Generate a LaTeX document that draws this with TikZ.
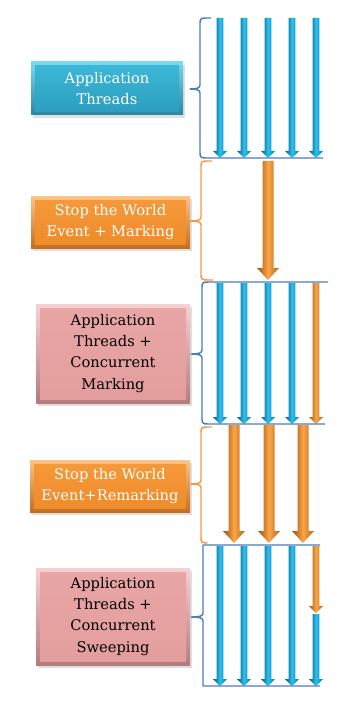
\documentclass[tikz,border=0pt]{standalone}
\usepackage{fontspec}
\setmainfont{DejaVu Serif}
\newfontfamily\boxfont{DejaVu Serif}
\usetikzlibrary{shadows}
\definecolor{lineblue}{HTML}{4A7EBB}
\definecolor{lineorange}{HTML}{F79646}
\definecolor{arrBd}{HTML}{05557E}
\definecolor{arrBm}{HTML}{2CC0EE}
\definecolor{arrBr}{HTML}{0878A8}
\definecolor{arrOd}{HTML}{9A500C}
\definecolor{arrOm}{HTML}{FAA648}
\definecolor{arrOr}{HTML}{B86216}
\definecolor{tealT}{HTML}{7AD8EF}
\definecolor{tealB}{HTML}{2A86A2}
\definecolor{tealIT}{HTML}{3DB9D9}
\definecolor{tealIB}{HTML}{2C9CBD}
\definecolor{oraT}{HTML}{FCC488}
\definecolor{oraB}{HTML}{C46E20}
\definecolor{oraIT}{HTML}{F69A3A}
\definecolor{oraIB}{HTML}{EE8A2A}
\definecolor{pinkT}{HTML}{F7D2D2}
\definecolor{pinkB}{HTML}{B47C7C}
\definecolor{pinkIT}{HTML}{E9A6A6}
\definecolor{pinkIB}{HTML}{E39D9D}
\tikzset{
  boxbase/.style={align=center, inner sep=0pt,
    font=\boxfont\fontsize{11}{15.8}\selectfont,
    drop shadow={opacity=0.25, shadow xshift=1.5pt, shadow yshift=-2pt}},
  tealbox/.style={boxbase, text=white, top color=tealT, bottom color=tealB,
    path picture={\shade[top color=tealIT, bottom color=tealIB]
      ([shift={(3pt,-3pt)}]path picture bounding box.north west) rectangle
      ([shift={(-3pt,2.5pt)}]path picture bounding box.south east);}},
  orabox/.style={boxbase, text=white, top color=oraT, bottom color=oraB,
    path picture={\shade[top color=oraIT, bottom color=oraIB]
      ([shift={(3pt,-3pt)}]path picture bounding box.north west) rectangle
      ([shift={(-3pt,2.5pt)}]path picture bounding box.south east);}},
  pinkbox/.style={boxbase, text=black, top color=pinkT, bottom color=pinkB,
    path picture={\shade[top color=pinkIT, bottom color=pinkIB]
      ([shift={(3pt,-3pt)}]path picture bounding box.north west) rectangle
      ([shift={(-3pt,2.5pt)}]path picture bounding box.south east);}},
  brk/.style={line width=1.1pt, line join=round},
}
% thin arrow: x, ytop, ytip, colour prefix
\newcommand\ArrThin[4]{\shade[left color=#4d, right color=#4r, middle color=#4m]
  ({#1-3.4},#2) -- ({#1+3.4},#2) -- ({#1+3.4},{#3-7}) -- ({#1+7},{#3-7}) --
  (#1,#3) -- ({#1-7},{#3-7}) -- ({#1-3.4},{#3-7}) -- cycle;}
% big arrow: x, ytop, ytip
\newcommand\ArrBig[3]{\shade[left color=arrOd, right color=arrOr, middle color=arrOm]
  ({#1-5.5},#2) -- ({#1+5.5},#2) -- ({#1+5.5},{#3-12}) -- ({#1+11},{#3-12}) --
  (#1,#3) -- ({#1-11},{#3-12}) -- ({#1-5.5},{#3-12}) -- cycle;}
% bracket: colour, xv, ytop, xtop, ymid, xtip, ybot, xbot
\newcommand\Brk[8]{\draw[brk, #1] (#4,#3) -- ({#2+6},#3) .. controls ({#2+1},#3) and (#2,{#3+1}) ..
  (#2,{#3+5}) -- (#2,{#5-4}) .. controls (#2,{#5-1}) and ({#2-3},#5) .. (#6,#5)
  .. controls ({#2-3},#5) and (#2,{#5+1}) .. (#2,{#5+4}) -- (#2,{#7-5})
  .. controls (#2,{#7-1}) and ({#2+1},#7) .. ({#2+6},#7) -- (#8,#7);}
\begin{document}
\begin{tikzpicture}[x=0.75pt, y=-0.75pt]
\path[use as bounding box] (0,0) rectangle (341,706);
% boxes
\node[tealbox, minimum width=114pt, minimum height=39.75pt] (b1) at (107,88.5) {Application\\Threads};
\node[orabox, minimum width=119.25pt, minimum height=39pt] (b2) at (110.5,222) {Stop the World\\Event + Marking};
\node[pinkbox, minimum width=115.5pt, minimum height=74.25pt] (b3) at (113,353.5) {Application\\Threads +\\Concurrent\\Marking};
\node[orabox, minimum width=120pt, minimum height=39pt] (b4) at (110,486) {Stop the World\\Event+Remarking};
\node[pinkbox, minimum width=115.5pt, minimum height=72.75pt] (b5) at (113,616.5) {Application\\Threads +\\Concurrent\\Sweeping};
% section 1 arrows
\foreach \x in {220,244,268,292,316} {\ArrThin{\x}{18}{158}{arrB}}
% section 2
\ArrBig{268}{161}{280}
% section 3
\foreach \x in {220,244,268,292} {\ArrThin{\x}{283}{424}{arrB}}
\ArrThin{316}{283}{424}{arrO}
% section 4
\foreach \x in {234,269,303} {\ArrBig{\x}{425}{543}}
% section 5
\foreach \x in {220,244,268,292} {\ArrThin{\x}{546}{686}{arrB}}
\ArrThin{316}{546}{613}{arrO}
\ArrThin{316}{614}{686}{arrB}
% brackets
\Brk{lineblue}{200}{18}{211}{89}{190}{158}{323}
\Brk{lineorange}{201}{161}{212}{221}{190}{280}{213}
\Brk{lineblue}{202}{282}{328}{354}{191}{424}{325}
\Brk{lineorange}{201}{427}{212}{484}{191}{543}{205}
\draw[brk, lineblue] (320,545) -- (203,545) -- (203,613) .. controls (203,616) and (200,617) .. (191,617)
  .. controls (200,617) and (203,618) .. (203,621) -- (203,686) -- (320,686);
\end{tikzpicture}
\end{document}
